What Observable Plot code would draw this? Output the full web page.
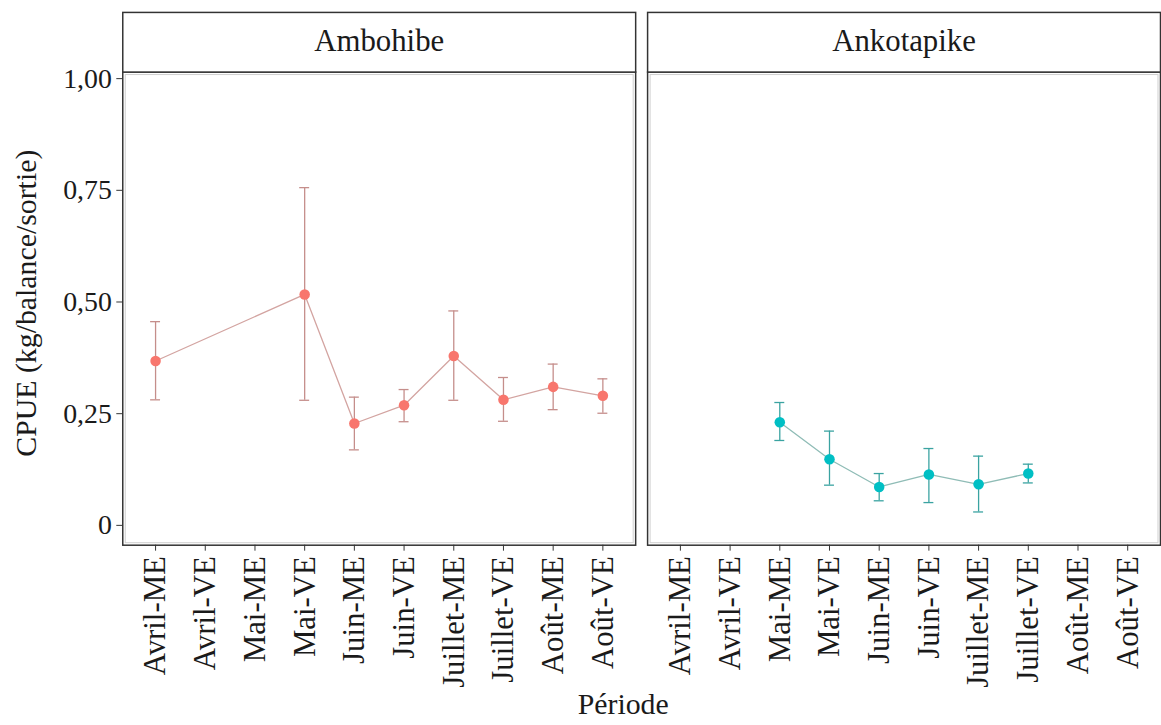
<!DOCTYPE html>
<html>
<head>
<meta charset="utf-8">
<script src="https://cdn.jsdelivr.net/npm/d3@7"></script>
<script src="https://cdn.jsdelivr.net/npm/@observablehq/plot@0.6"></script>
<style>
  html, body { margin: 0; padding: 0; background: #fff; overflow: hidden; }
  #chart { width: 1161px; height: 725px; overflow: hidden; }
  #chart svg, #chart svg text { font-family: "Liberation Serif", serif !important; }
</style>
</head>
<body>
<div id="chart"></div>
<script>
// Sampling periods (month × fishing tide) and the two sites
const periods = ["Avril-ME", "Avril-VE", "Mai-ME", "Mai-VE", "Juin-ME", "Juin-VE",
                 "Juillet-ME", "Juillet-VE", "Août-ME", "Août-VE"];
const sites = ["Ambohibe", "Ankotapike"];
const yTicks = [0, 0.25, 0.5, 0.75, 1];

// Ambohibe: mean CPUE and error bar bounds
const amboPeriods = ["Avril-ME", "Mai-VE", "Juin-ME", "Juin-VE", "Juillet-ME", "Juillet-VE", "Août-ME", "Août-VE"];
const amboMean = [0.368, 0.517, 0.228, 0.269, 0.379, 0.281, 0.310, 0.290];
const amboLow  = [0.281, 0.280, 0.169, 0.232, 0.280, 0.233, 0.259, 0.251];
const amboHigh = [0.456, 0.756, 0.287, 0.304, 0.480, 0.331, 0.361, 0.328];

// Ankotapike: mean CPUE and error bar bounds
const ankoPeriods = ["Mai-ME", "Mai-VE", "Juin-ME", "Juin-VE", "Juillet-ME", "Juillet-VE"];
const ankoMean = [0.231, 0.148, 0.086, 0.114, 0.092, 0.116];
const ankoLow  = [0.190, 0.090, 0.055, 0.051, 0.030, 0.095];
const ankoHigh = [0.275, 0.211, 0.116, 0.172, 0.155, 0.137];

const rowsOf = (site, ps, mean, low, high) =>
  ps.map((p, i) => ({site, period: p, mean: mean[i], low: low[i], high: high[i]}));
const ambo = rowsOf("Ambohibe", amboPeriods, amboMean, amboLow, amboHigh);
const anko = rowsOf("Ankotapike", ankoPeriods, ankoMean, ankoLow, ankoHigh);

const ink = "#1a1a1a";
const fmt = d => d === 0 ? "0" : d.toFixed(2).replace(".", ",");

// one series: connecting line, error bars with caps, and points
function series(rows, pointColor, barColor, lineColor) {
  return [
    Plot.line(rows, {fx: "site", x: "period", y: "mean", stroke: lineColor, strokeWidth: 1.3}),
    Plot.ruleX(rows, {fx: "site", x: "period", y1: "low", y2: "high", stroke: barColor, strokeWidth: 1.3}),
    Plot.tickY(rows, {fx: "site", x: "period", y: "low", stroke: barColor, strokeWidth: 1.3}),
    Plot.tickY(rows, {fx: "site", x: "period", y: "high", stroke: barColor, strokeWidth: 1.3}),
    Plot.dot(rows, {fx: "site", x: "period", y: "mean", r: 5.3, fill: pointColor, stroke: "none"})
  ];
}

const panelH = 725 - 72 - 177;

const chart = Plot.plot({
  width: 1168,
  height: 725,
  marginLeft: 123,
  marginRight: 0,
  marginTop: 72,
  marginBottom: 177,
  style: {fontSize: "28px", color: ink, background: "#fff"},
  fx: {domain: sites, paddingInner: 0.0225, paddingOuter: 0, axis: null},
  // narrow bands: the band width sets the error-bar cap width
  x: {type: "band", domain: periods, paddingInner: 0.8, paddingOuter: 0.5, axis: null},
  y: {domain: [-0.0444, 1.0147], axis: null},
  marks: [
    // faint inner edge, then dark panel border
    Plot.frame({stroke: "#cfcfcf", strokeWidth: 1, inset: 2.5}),
    Plot.frame({stroke: "#333", strokeWidth: 1.5}),
    // facet strips above each panel
    Plot.frame({insetTop: -60, insetBottom: panelH, stroke: "#333", strokeWidth: 1.5, fill: "#fff"}),
    Plot.text(sites, {fx: d => d, text: d => d, frameAnchor: "top", lineAnchor: "middle", dy: -31,
                      fontSize: 31, fill: ink}),
    Plot.axisY({ticks: yTicks, tickFormat: fmt, tickSize: 6, tickPadding: 5, fontSize: 28,
                label: null, stroke: "#333", fill: ink}),
    Plot.axisX({tickRotate: -90, tickSize: 6, tickPadding: 5, fontSize: 31,
                label: null, stroke: "#333", fill: ink}),
    ...series(ambo, "#F8766D", "#c58e8b", "#d3a4a1"),
    ...series(anko, "#00BFC4", "#3aa3a1", "#8fbcb6")
  ]
});

const svg = d3.select(chart);
svg.append("text")
  .attr("transform", "translate(26,305) rotate(-90)")
  .attr("text-anchor", "middle")
  .attr("dy", "0.35em")
  .attr("font-size", 30)
  .attr("fill", ink)
  .text("CPUE (kg/balance/sortie)");
svg.append("text")
  .attr("x", 627)
  .attr("y", 718)
  .attr("text-anchor", "middle")
  .attr("font-size", 30)
  .attr("fill", ink)
  .text("Période");

document.getElementById("chart").appendChild(chart);
</script>
</body>
</html>
